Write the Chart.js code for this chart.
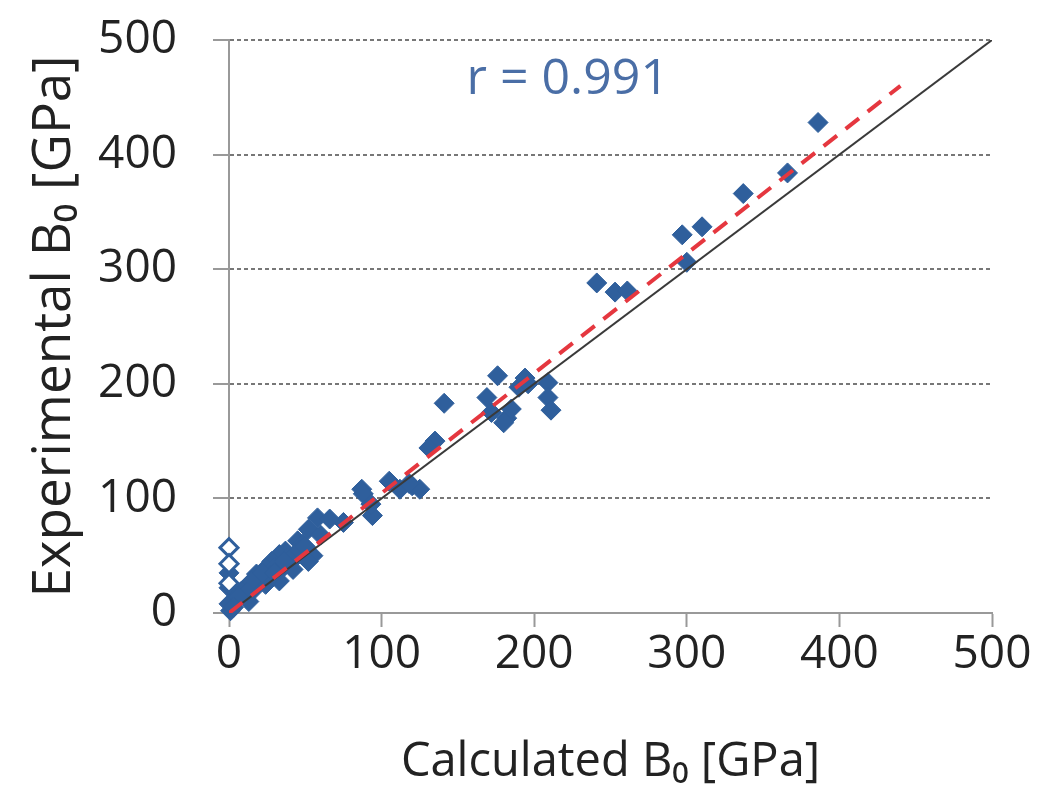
<!doctype html>
<html lang="en">
  <head>
    <meta charset="utf-8">
    <title>Calculated vs Experimental B0</title>
    <style>
      * {
        margin: 0;
        padding: 0;
      }
      body {
        background: white;
      }
      .chartBox {
        width: 1039px;
        height: 794px;
      }
    </style>
  </head>
  <body>
    <div class="chartBox">
      <canvas id="myChart" width="1039" height="794"></canvas>
    </div>
    <script src="https://cdn.jsdelivr.net/npm/chart.js"></script>
    <script>
    // setup
    const calcX = [
      386, 366, 337, 310, 297, 300, 241, 253, 261,
      141, 176, 169, 172, 182, 180, 185, 190, 194, 209, 209, 211, 196,
      135, 131,
      87, 88, 94, 93, 105, 112, 120, 125, 118,
      58, 52, 75, 66, 45, 48, 55, 52, 60,
      37, 33, 28, 24, 18, 13, 8, 5, 1, 35, 33, 41, 24, 13, 0, 0, 0,
      20, 30, 38, 44, 10, 27, 42, 16,
      15, 22, 30, 36, 46, 50, 12, 6, 3
    ];
    const expY = [
      428, 384, 366, 337, 330, 306, 288, 280, 281,
      183, 207, 188, 175, 170, 166, 178, 197, 205, 201, 188, 177, 200,
      150, 144,
      108, 104, 85, 95, 115, 108, 111, 108, 113,
      83, 73, 79, 82, 63, 60, 50, 45, 68,
      54, 51, 45, 39, 34, 25, 19, 11, 2, 39, 28, 45, 25, 10, 35, 22, 8,
      30, 40, 48, 52, 15, 33, 38, 20,
      28, 35, 35, 45, 55, 58, 18, 14, 5
    ];
    // open markers (calculated value 0)
    const openX = [0, 0, 0];
    const openY = [57, 43, 26];
    // reference line y = x and linear fit
    const identX = [0, 500];
    const identY = [0, 500];
    const fitX = [0, 440];
    const fitY = [0, 460];
    const tickValues = [0, 100, 200, 300, 400, 500];
    const rLabel = 'r = 0.991';

    const toPoints = (xs, ys) => xs.map((x, i) => ({ x: x, y: ys[i] }));

    const FONT = '"Open Sans", "Noto Sans", sans-serif';
    const blue = '#2f5f9c';

    const data = {
      datasets: [{
        label: 'fit',
        data: toPoints(fitX, fitY),
        showLine: true,
        borderColor: '#e5373f',
        borderWidth: 4,
        borderDash: [17, 11],
        pointRadius: 0
      }, {
        label: 'y = x',
        data: toPoints(identX, identY),
        showLine: true,
        borderColor: '#3a3a3a',
        borderWidth: 2,
        pointRadius: 0
      }, {
        label: 'open',
        data: toPoints(openX, openY),
        clip: false,
        pointStyle: 'rectRot',
        pointRadius: 9,
        backgroundColor: 'white',
        borderColor: blue,
        borderWidth: 3
      }, {
        label: 'compounds',
        data: toPoints(calcX, expY),
        clip: false,
        pointStyle: 'rectRot',
        pointRadius: 10,
        backgroundColor: blue,
        borderColor: blue,
        borderWidth: 1
      }]
    };

    // r label drawn in the plot
    const rText = {
      id: 'rText',
      afterDatasetsDraw(chart) {
        const { ctx, scales: { x, y } } = chart;
        ctx.save();
        ctx.font = '50px ' + FONT;
        ctx.fillStyle = '#4a6ea6';
        ctx.textAlign = 'center';
        ctx.textBaseline = 'middle';
        ctx.fillText(rLabel, x.getPixelForValue(222), y.getPixelForValue(465));
        ctx.restore();
      }
    };

    // config
    const config = {
      type: 'scatter',
      data,
      options: {
        responsive: false,
        animation: false,
        layout: {
          padding: { top: 40, right: 47, left: 0, bottom: 0 }
        },
        plugins: {
          legend: { display: false },
          tooltip: { enabled: false }
        },
        scales: {
          x: {
            min: 0,
            max: 500,
            afterBuildTicks: (scale) => { scale.ticks = tickValues.map(v => ({ value: v })); },
            afterFit: (scale) => {
              scale.height = 181;
              scale.paddingLeft = 0;
              scale.paddingRight = 0;
            },
            grid: {
              drawOnChartArea: false,
              drawTicks: true,
              tickLength: 14,
              tickColor: '#999',
              tickWidth: 2
            },
            border: { display: true, color: '#999', width: 2 },
            ticks: {
              color: '#222',
              padding: 0,
              maxRotation: 0,
              autoSkip: false,
              font: { family: FONT, size: 46 }
            },
            title: {
              display: true,
              text: 'Calculated B\u2080 [GPa]',
              color: '#222',
              padding: { top: 0, bottom: 3 },
              font: { family: FONT, size: 47 }
            }
          },
          y: {
            min: 0,
            max: 500,
            afterBuildTicks: (scale) => { scale.ticks = tickValues.map(v => ({ value: v })); },
            afterFit: (scale) => {
              scale.width = 229;
              scale.paddingTop = 0;
              scale.paddingBottom = 0;
            },
            grid: {
              color: (c) => c.tick && c.tick.value === 0 ? 'rgba(0,0,0,0)' : '#777',
              lineWidth: 2,
              drawTicks: true,
              tickLength: 16,
              tickColor: '#999',
              tickWidth: 2,
              tickBorderDash: []
            },
            border: { display: true, color: '#999', width: 2, dash: [4, 3] },
            ticks: {
              color: '#222',
              padding: 36,
              font: { family: FONT, size: 46 }
            },
            title: {
              display: true,
              text: 'Experimental B\u2080 [GPa]',
              color: '#222',
              padding: { top: 23, bottom: 0 },
              font: { family: FONT, size: 53 }
            }
          }
        }
      },
      plugins: [rText]
    };

    // render init block
    const myChart = new Chart(
      document.getElementById('myChart'),
      config
    );
    </script>
  </body>
</html>
